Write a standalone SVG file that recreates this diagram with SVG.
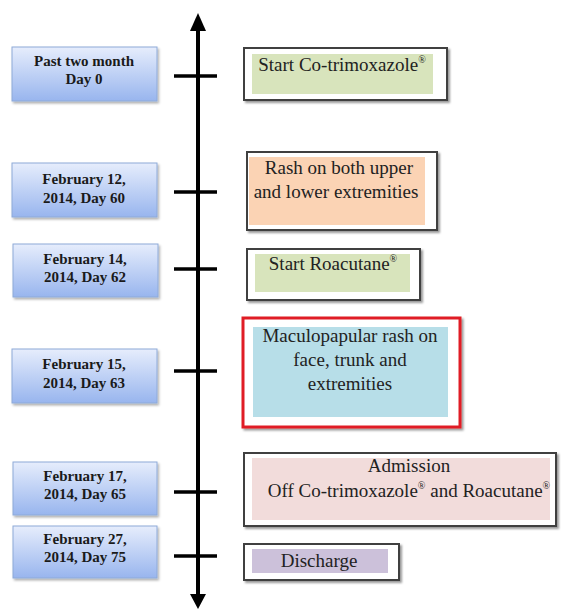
<svg xmlns="http://www.w3.org/2000/svg" width="565" height="610" viewBox="0 0 565 610">
<style>
.date rect{fill:url(#gblue);stroke:#8eaad8;stroke-width:1;filter:url(#sh)}
.date text{font-family:"Liberation Serif","Times New Roman",serif;font-weight:bold;font-size:15px;fill:#1a1a1a;text-anchor:middle}
.ev .outer{fill:#fff;stroke:#3f3f3f;stroke-width:2;filter:url(#sh2)}
.ev .red{fill:#fff;stroke:#e01f25;stroke-width:3;filter:url(#sh2)}
.ev text{font-family:"Liberation Serif","Times New Roman",serif;font-size:19px;fill:#222;text-anchor:middle}
.sup{font-size:10px}
.axis{stroke:#000;stroke-width:4;fill:none}
.tick{stroke:#000;stroke-width:3.5}
</style>
<defs>
<linearGradient id="gblue" x1="0" y1="0" x2="0" y2="1">
<stop offset="0" stop-color="#e6edfc"/>
<stop offset="1" stop-color="#98b5ee"/>
</linearGradient>
<filter id="sh" x="-10%" y="-10%" width="130%" height="140%">
<feDropShadow dx="1.5" dy="2" stdDeviation="1.2" flood-color="#000" flood-opacity="0.3"/>
</filter>
<filter id="sh2" x="-10%" y="-10%" width="130%" height="140%">
<feDropShadow dx="2" dy="2" stdDeviation="1.2" flood-color="#000" flood-opacity="0.4"/>
</filter>
</defs>
<rect width="565" height="610" fill="#fff"/>

<g id="connectors">
<line class="axis" x1="198" y1="28" x2="198" y2="597"/>
<polygon points="198,13 190,31 206,31" fill="#000"/>
<polygon points="198,609 190,594 206,594" fill="#000"/>
<line class="tick" x1="174" y1="76" x2="217" y2="76"/>
<line class="tick" x1="174" y1="192" x2="217" y2="192"/>
<line class="tick" x1="174" y1="269" x2="217" y2="269"/>
<line class="tick" x1="174" y1="371" x2="217" y2="371"/>
<line class="tick" x1="174" y1="492" x2="217" y2="492"/>
<line class="tick" x1="174" y1="556" x2="217" y2="556"/>
</g>

<g id="d0" class="date"><rect x="12" y="47" width="145" height="54"/><text x="84" y="66">Past two month</text><text x="84" y="84">Day 0</text></g>
<g id="d60" class="date"><rect x="12" y="163" width="145" height="54"/><text x="84" y="184">February 12,</text><text x="84" y="203">2014, Day 60</text></g>
<g id="d62" class="date"><rect x="13" y="244" width="145" height="53"/><text x="85" y="264">February 14,</text><text x="85" y="282">2014, Day 62</text></g>
<g id="d63" class="date"><rect x="12" y="349" width="145" height="54"/><text x="84" y="369">February 15,</text><text x="84" y="388">2014, Day 63</text></g>
<g id="d65" class="date"><rect x="13" y="462" width="144" height="53"/><text x="85" y="481">February 17,</text><text x="85" y="499">2014, Day 65</text></g>
<g id="d75" class="date"><rect x="13" y="526" width="144" height="52"/><text x="85" y="544">February 27,</text><text x="85" y="562">2014, Day 75</text></g>

<g id="e0" class="ev"><rect class="outer" x="244" y="48" width="203" height="52"/><rect x="252" y="54" width="181" height="40" fill="#d8e4bc"/><text x="342" y="71">Start Co-trimoxazole<tspan class="sup" dy="-8">®</tspan></text></g>
<g id="e60" class="ev"><rect class="outer" x="247" y="152" width="190" height="78"/><rect x="249" y="157" width="176" height="68" fill="#fbd3b4"/><text x="339" y="174">Rash on both upper</text><text x="336" y="198">and lower extremities</text></g>
<g id="e62" class="ev"><rect class="outer" x="247" y="249" width="173" height="51"/><rect x="255" y="254" width="155" height="38" fill="#d8e4bc"/><text x="333" y="270">Start Roacutane<tspan class="sup" dy="-8">®</tspan></text></g>
<g id="e63" class="ev"><rect class="red" x="243" y="318" width="217" height="109"/><rect x="253" y="327" width="195" height="90" fill="#b7dee8"/><text x="350" y="342">Maculopapular rash on</text><text x="350" y="366">face, trunk and</text><text x="350" y="390">extremities</text></g>
<g id="e65" class="ev"><rect class="outer" x="244" y="453" width="312" height="73"/><rect x="252" y="458" width="298" height="62" fill="#f2dcdb"/><text x="409" y="472">Admission</text><text x="409" y="497">Off Co-trimoxazole<tspan class="sup" dy="-8">®</tspan><tspan dy="8"> and Roacutane</tspan><tspan class="sup" dy="-8">®</tspan></text></g>
<g id="e75" class="ev"><rect class="outer" x="244" y="544" width="155" height="36"/><rect x="252" y="549" width="136" height="24" fill="#ccc1da"/><text x="319" y="567">Discharge</text></g>
</svg>
